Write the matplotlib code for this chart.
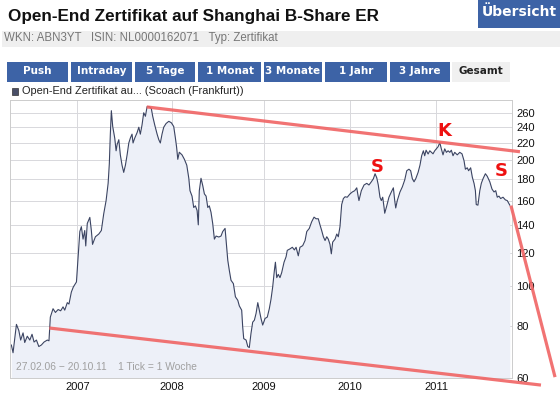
import matplotlib
matplotlib.use("Agg")
from matplotlib import pyplot as plt
from matplotlib.patches import Rectangle
from matplotlib.ticker import FixedLocator, FixedFormatter, NullLocator

# Kursverlauf: x = Tick-Nummer (1 Tick = 1 Woche), y = Kurs
ticks = [0, 1.0, 3.0, 4.4, 5.5, 6.9, 7.9, 9.4, 10.9, 12.2, 13.4, 14.8, 16.2, 17.7, 19.3,
         21.2, 22.2, 23.0, 24.6, 26.0, 27.6, 29.1, 30.5, 31.5, 33.0, 34.0, 35.4, 36.6, 38.4,
         39.4, 40.4, 41.3, 42.3, 43.3, 43.9, 44.8, 46.3, 47.2, 47.9, 49.6, 51.6, 53.1, 54.5,
         55.9, 57.1, 57.8, 58.4, 59.0, 59.8, 61.0, 61.8, 62.4, 63.4, 64.3, 65.3, 66.3, 67.3,
         68.3, 69.3, 70.2, 71.2, 71.8, 72.8, 74.2, 75.2, 76.1, 77.1, 78.1, 79.1, 80.1, 81.4,
         82.6, 83.4, 84.6, 86.0, 87.0, 87.9, 88.9, 89.9, 91.3, 92.9, 94.4, 95.8, 96.8, 97.5,
         98.2, 99.1, 100.7, 102.1, 103.5, 104.7, 105.4, 106.6, 107.6, 108.6, 109.6, 110.3,
         110.9, 111.9, 112.9, 113.9, 114.9, 115.9, 116.8, 117.8, 118.8, 119.8, 120.8, 122.4,
         123.7, 124.7, 126.1, 126.7, 127.7, 128.6, 129.6, 131.0, 132.2, 133.6, 134.5, 135.9,
         136.5, 137.1, 138.5, 139.5, 140.4, 141.4, 142.4, 143.4, 144.4, 145.4, 146.3, 147.3,
         148.3, 149.7, 151.0, 152.2, 153.2, 154.2, 155.2, 155.8, 156.6, 157.5, 158.5, 159.5,
         160.9, 162.1, 162.8, 164.4, 165.8, 167.0, 168.0, 169.3, 170.3, 171.9, 173.3, 174.3,
         175.8, 177.2, 178.6, 179.8, 181.1, 182.1, 183.1, 184.1, 185.1, 186.1, 187.0, 188.0,
         188.8, 189.6, 191.0, 192.0, 192.9, 193.9, 194.9, 195.9, 196.9, 198.2, 199.8, 201.2,
         202.6, 203.8, 204.6, 205.1, 206.5, 208.1, 209.7, 211.0, 212.4, 213.6, 214.6, 215.6,
         216.5, 217.5, 218.3, 219.1, 219.9, 220.3, 221.5, 222.8, 224.2, 225.4, 226.2, 226.8,
         227.7, 229.3, 230.7, 232.1, 233.3, 234.6, 235.6, 236.6, 237.6, 238.6, 240.0, 241.1,
         242.1, 243.1, 243.9, 244.7, 245.9, 246.9, 248.8, 249.8, 250.8, 251.8, 252.8, 253.7,
         254.7, 255.7, 256.7, 257.7, 258.7, 259.6, 260.6, 261.6, 263.1, 264.6, 265.9, 267.1,
         267.9, 269.0, 269.8, 271.0, 272.0, 273.0, 273.8, 274.3, 275.3, 276.4, 277.3, 278.3,
         279.7, 280.8, 282.3, 283.6, 284.8, 285.8, 286.7, 287.7, 288.7, 290.1, 291.5, 292.6,
         294.1]
kurs = [72, 69, 80.7, 78, 74, 77, 73, 75.6, 74, 76.4, 73.2, 74, 71.4, 72, 73.2,
        74, 73.7, 84, 88, 86.2, 87.6, 87, 88.9, 87.3, 91, 90.3, 96.5, 99.3, 102,
        117.3, 134.8, 138.5, 129.3, 135.6, 124.5, 141, 145.8, 135.6, 125.6, 131, 133, 135.6, 148.7,
        160, 176, 196, 231, 263, 241, 226, 210.7, 218, 224, 206, 194.6, 187, 194.6,
        206, 220, 226, 231, 220, 226, 233, 240, 231, 243, 260, 255, 269, 269,
        266, 255, 243, 231, 224, 220, 231, 240, 245, 248, 246, 241, 226, 215,
        201, 209, 206, 201, 194.6, 181, 169, 164, 154, 155.4, 151.4, 139.9,
        169, 181, 174, 166, 164, 154, 155.4, 150, 141, 129.3, 131.5, 130.8,
        131.5, 134.8, 137.2, 128.3, 115, 108.8, 103, 101.1, 94, 92.2, 89.4, 87.3,
        79.6, 74.6, 74, 71.4, 71, 76.8, 81.7, 82.6, 85.8, 91, 87.3, 83.4,
        80.4, 83.4, 84, 88, 92.7, 99.3, 108.8, 113.8, 104.5, 106.4, 104.5, 107.4,
        113.8, 117.3, 121.5, 122.5, 123.6, 121.8, 123.6, 117.9, 123.6, 124.7, 128.3, 134.8,
        137.2, 142.3, 146, 144.7, 144.7, 139.9, 135.6, 131, 128.3, 131, 129.3, 125.6,
        119.2, 127.2, 129.3, 133, 131, 138.5, 156.5, 161.8, 163.4, 163, 166, 167.8,
        169, 171.7, 164, 160, 169, 174.4, 176, 174.4, 177.5, 180.5, 185.6, 181.5,
        174.4, 163, 160, 163, 154.2, 149.2, 155.4, 163, 167.8, 171.7, 160, 153.6,
        160, 167.8, 172.6, 179.3, 188.7, 190.3, 188.7, 180.5, 177.5, 180.5, 187, 194.6,
        205, 210.7, 205, 211.4, 207, 210.7, 207.2, 210.7, 213, 215.5, 220.5, 213,
        206, 213, 208.9, 210.7, 208.9, 211.4, 205, 208.9, 206, 208.9, 207.2, 199.4,
        190.3, 191.8, 188.7, 191.8, 182, 176, 169, 156.5, 156, 169, 176, 180.5,
        185.6, 183, 177.5, 170.5, 167.8, 169, 163, 164, 161.8, 163, 160.6, 160,
        156]

year_ticks = [38.9, 94.8, 149.1, 199.8, 250.8]
year_labels = ["2007", "2008", "2009", "2010", "2011"]
y_ticks = [60, 80, 100, 120, 140, 160, 180, 200, 220, 240, 260]

# eingezeichnete Trendlinien (Tick, Kurs)
trend_oben_x = [79.9, 300.1]
trend_oben_y = [268.5, 209.6]
trend_unten_x = [22.4, 312.5]
trend_unten_y = [79.1, 57.7]
trend_bruch_x = [294.8, 320.8]
trend_bruch_y = [155.6, 60.3]
marken = ["S", "K", "S"]
marken_x = [215.6, 255.5, 289.3]
marken_y = [192.2, 235, 188.7]

tabs = ["Push", "Intraday", "5 Tage", "1 Monat", "3 Monate", "1 Jahr", "3 Jahre", "Gesamt"]
tab_edges = [(7.3, 67.5), (71, 131.7), (135, 195), (198.3, 261), (263.5, 322),
             (325, 386.7), (389.5, 450), (452, 510)]

W, H = 560, 396
BLUE = "#3d63a6"


def fx(x):
    return x / W


def fy(y):
    return 1 - y / H


fig = plt.figure(figsize=(5.6, 3.96), dpi=100)
fig.patch.set_facecolor("white")

# Kopfbereich
fig.text(fx(8), fy(16), "Open-End Zertifikat auf Shanghai B-Share ER", fontsize=12.3,
         fontweight="bold", family="Liberation Sans", color="#111111", va="center")
fig.add_artist(Rectangle((fx(478), fy(28)), (W - 478) / W, 28 / H, transform=fig.transFigure,
                         color=BLUE, lw=0))
fig.text(fx(482), fy(12), "Übersicht", fontsize=10, fontweight="bold", family="DejaVu Sans",
         color="white", va="center")
fig.add_artist(Rectangle((fx(2), fy(47)), (W - 2) / W, 16.5 / H, transform=fig.transFigure,
                         color="#efefef", lw=0))
fig.text(fx(4), fy(38.5), "WKN: ABN3YT   ISIN: NL0000162071   Typ: Zertifikat", fontsize=8.3,
         family="Liberation Sans", color="#777777", va="center")

for name, (x0, x1) in zip(tabs, tab_edges):
    aktiv = name == "Gesamt"
    fig.add_artist(Rectangle((fx(x0), fy(81.7)), (x1 - x0) / W, 20 / H, transform=fig.transFigure,
                             color="#f0f0f0" if aktiv else BLUE, lw=0))
    fig.text(fx((x0 + x1) / 2), fy(71.5), name, fontsize=7.5, fontweight="bold",
             family="DejaVu Sans", color="#222222" if aktiv else "white", ha="center", va="center")

# Legende
fig.add_artist(Rectangle((fx(11.5), fy(95)), 6.5 / W, 6.5 / H, transform=fig.transFigure,
                         facecolor="#4a4f68", edgecolor="#333333", lw=0.5))
fig.text(fx(22), fy(91.5), "Open-End Zertifikat au... (Scoach (Frankfurt))", fontsize=7.9,
         family="Liberation Sans", color="#222222", va="center")

# Chart
ax = fig.add_axes([fx(10), fy(378), (512 - 10) / W, (378 - 100) / H])
ax.set_yscale("log")
ax.fill_between(ticks, kurs, 50, color="#edf0f8", lw=0)
ax.plot(ticks, kurs, color="#3b4462", lw=0.8)
ax.set_xlim(-0.8, 295.4)
ax.set_ylim(60, 279)

ax.yaxis.set_major_locator(FixedLocator(y_ticks))
ax.yaxis.set_major_formatter(FixedFormatter([str(v) for v in y_ticks]))
ax.yaxis.set_minor_locator(NullLocator())
ax.yaxis.tick_right()
ax.set_xticks(year_ticks)
ax.set_xticklabels(year_labels)
ax.tick_params(axis="both", length=0, labelsize=8, colors="#111111", pad=3)
for lbl in ax.get_xticklabels() + ax.get_yticklabels():
    lbl.set_family("Liberation Sans")
ax.grid(True, color="#d8d8dc", lw=0.7)
ax.set_axisbelow(True)
for sp in ax.spines.values():
    sp.set_color("#cccccc")
    sp.set_linewidth(0.7)

ax.text(0.012, 0.022, "27.02.06 \u2212 20.10.11    1 Tick = 1 Woche", transform=ax.transAxes,
        fontsize=7.4, family="Liberation Sans", color="#a0a0a0", va="bottom")

# Trendlinien und Markierungen
for xs, ys in [(trend_oben_x, trend_oben_y), (trend_unten_x, trend_unten_y),
               (trend_bruch_x, trend_bruch_y)]:
    ax.plot(xs, ys, color="#f06464", lw=2.3, alpha=0.9, clip_on=False, solid_capstyle="butt",
            zorder=5)
for m, x, y in zip(marken, marken_x, marken_y):
    ax.text(x, y, m, fontsize=13, fontweight="bold", family="DejaVu Sans", color="#ee1111",
            ha="center", va="center", zorder=6)

fig.savefig("out.png", dpi=100)
